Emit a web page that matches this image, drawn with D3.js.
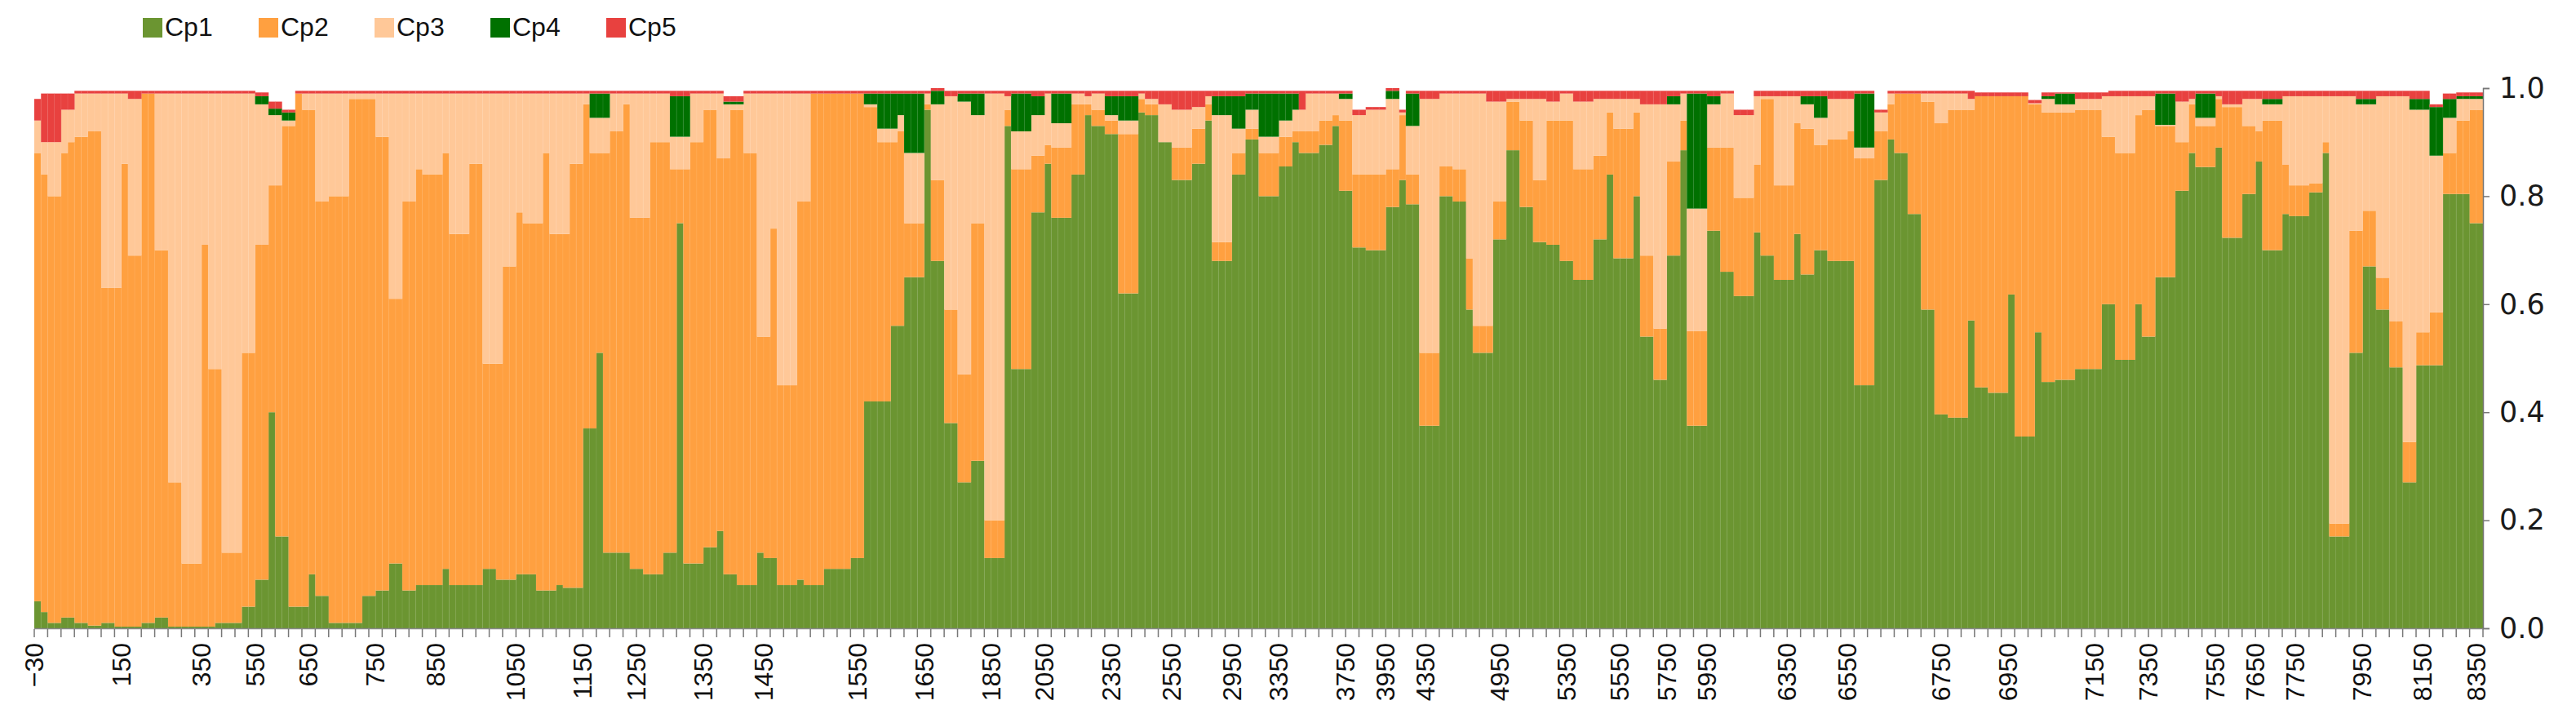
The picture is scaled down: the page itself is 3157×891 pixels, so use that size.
<!DOCTYPE html>
<html>
<head>
<meta charset="utf-8">
<script src="https://cdn.jsdelivr.net/npm/d3@7"></script>
<style>
  body { margin: 0; background: #fff; }
  #chart { width: 3157px; height: 891px; }
</style>
</head>
<body>
<div id="chart"></div>
<script>
// cumulative tops (percent) of each component, one value per bar
const cp1Top = [
5,3,1,1,2,2,1,1,0.5,0.5, 1,1,0.3,0.3,0.3,0.3,1,1,2,2,
0.3,0.3,0.3,0.3,0.3,0.3,0.3,1,1,1, 1,4,4,9,9,40,17,17,4,4,
4,10,6,6,1,1,1,1,1,6, 6,7,7,12,12,7,7,8,8,8,
8,11,8,8,8,8,8,11,11,9, 9,9,10,10,10,7,7,7,8,7.5,
7.5,7.5,37,37,51,14,14,14,14,11, 11,10,10,10,14,14,75,12,12,12,
15,15,18,10,10,8,8,8,14,13, 13,8,8,8,9,8,8,8,11,11,
11,11,13,13,42,42,42,42,56,56, 65,65,65,96,68,68,38,38,27,27,
31,31,13,13,13,93,48,48,48,77, 77,86,76,76,76,84,84,95,93,93,
91.5,91.5,62,62,62,95.5,95,95,90,90, 83,83,83,86,86,94,68,68,68,84,
84,90.5,90.5,80,80,80,85.5,85.5,90,88, 88,88,89.5,89.5,93,81,81,70.5,70.5,70,
70,70,78,78,83,78.5,78.5,37.5,37.5,37.5, 80,80,79,79,59,51,51,51,72,72,
88.5,88.5,78,78,71.5,71.5,71,71,68,68, 64.5,64.5,64.5,72,72,84,68.5,68.5,68.5,80,
54,54,46,46,69,69,88.5,37.5,37.5,37.5, 73.6,73.6,66,66,61.5,61.5,61.5,73.3,69,69,
64.5,64.5,64.5,73,65.5,65.5,70,70,68,68, 68,68,45,45,45,83,83,90.5,88,88,
76.7,76.7,59,59,39.6,39.6,39,39,39,57, 44.6,44.6,43.6,43.6,43.6,61.8,35.5,35.5,35.5,54.8,
45.6,45.6,46,46,46,48,48,48,48,60, 60,49.7,49.7,49.7,60,54,54,65,65,65,
81,81,88,85.4,85.4,85.4,89,72.3,72.3,72.3, 80.4,80.4,86.4,70,70,70,76.7,76.3,76.3,76.3,
80.7,80.7,88,17,17,17,51,51,67,67, 59,59,48.3,48.3,27,27,48.7,48.7,48.7,48.7,
80.4,80.4,80.4,80.4,75,75
];
const cp2Top = [
88,84,80,80,88,90,91,91,92,92, 63,63,63,86,69,69,99,99,70,70,
27,27,12,12,12,71,48,48,14,14, 14,51,51,71,71,82,82,93,93,99,
96,96,79,79,80,80,80,98,98,98, 98,91,91,61,61,79,79,85,84,84,
84,88,73,73,73,86,86,49,49,49, 67,67,77,75,75,75,88,73,73,73,
86,86,97,88,88,88,92,92,97,76, 76,76,90,90,90,85,85,85,90,90,
96,96,87,87,96,96,88,88,54,54, 74,45,45,45,79,79,99,99,99,99,
99,99,99,99,96.5,96.5,90,90,90,92, 75,75,75,97,83,83,59,59,47,47,
75,75,20,20,20,96,85,85,85,87.5, 87.5,89.5,89,89,89,97,97,97,96,96,
94,94,91.5,91.5,91.5,98,97,97,90,90, 89,89,89,92.5,92.5,97,71.5,71.5,71.5,88,
88,92.5,92.5,88,88,88,91,91,92,92, 92,92,94,94,95,94,94,84,84,84,
84,84,85,85,95,84,84,51,51,51, 85.5,85.5,85,85,68.5,56,56,56,79,79,
97.5,97.5,94,94,83,83,94,94,94,94, 85,85,85,87.5,87.5,95.5,92.5,92.5,92.5,95.5,
69,69,55.5,55.5,86.4,86.4,94,55,55,55, 89,89,89,89,79.7,79.7,79.7,85.8,98,98,
82,82,82,93.5,92.5,92.5,89.5,89.5,90.5,90.5, 90.5,92,87,87,87,92,92,97,99,99,
99,99,97.5,97.5,93.5,93.5,96,96,96,96, 98.5,98.5,98.5,98.5,98.5,98.5,98.5,98.5,97,97,
95.5,95.5,95.5,95.5,95.5,96,96,96,96,91, 91,88,88,88,95,96,96,93,93,93,
90,90,97,93,93,93,98,96.5,96.5,96.5, 93,93,92,94,94,94,85.8,82,82,82,
82.4,82.4,90,19.4,19.4,19.4,73.6,73.6,77.3,77.3, 64.9,64.9,56.8,56.8,34.5,34.5,54.8,54.8,58.5,58.5,
88,88,94,94,96,96
];
const cp3Top = [
94,90,90,90,96,96,99,99,99,99, 99,99,99,99,98,98,99,99,99,99,
99,99,99,99,99,99,99,99,99,99, 99,99,99,97,97,95,95,94,94,99,
99,99,99,99,99,99,99,99,99,99, 99,99,99,99,99,99,99,99,99,99,
99,99,99,99,99,99,99,99,99,99, 99,99,99,99,99,99,99,99,99,99,
99,99,99,94.5,94.5,94.5,99,99,99,99, 99,99,99,99,99,91,91,91,99,99,
99,99,99,97,97,97,99,99,99,99, 99,99,99,99,99,99,99,99,99,99,
99,99,99,99,97,97,92.5,92.5,92.5,95, 88,88,88,99,97,97,98.5,98.5,97.5,97.5,
95,95,99,99,99,98.5,92,92,92,95, 95,99,93.5,93.5,93.5,99,99,98.5,99,99,
95,95,94,94,94,99,98,98,97,97, 96,96,96,96.5,96.5,98.5,95,95,95,92.5,
92.5,96,96,91,91,91,94,94,96,96, 99,99,99,99,99,98,98,95,95,96,
96,96,98,98,95.5,93,93,98,98,98, 99,99,99,99,99,99,99,97.5,97.5,97.5,
98,98,98,98,98,98,97.5,97.5,99,99, 97.5,97.5,97.5,98,98,98,98,98,98,98,
97,97,97,97,97,97,99,77.7,77.7,77.7, 97,97,99,99,95,95,95,98.5,98.5,98.5,
98.5,98.5,98.5,98.5,97,97,94.5,94.5,98,98, 98,98,89,89,89,95.5,95.5,99,99,99,
99,99,99,99,99,99,99,99,99,98, 98.5,98.5,98.5,98.5,98.5,98.5,98.5,98.5,97.2,97.2,
98,98,97,97,97,98,98,98,98,98.5, 98.5,98.5,98.5,98.5,98.5,98.5,98.5,93.2,93.2,93.2,
97.5,97.5,98,94.5,94.5,94.5,98.5,97,97,97, 98,98,98,97,97,97,98.5,98.5,98.5,98.5,
98.5,98.5,98.5,98.5,98.5,98.5,98.5,97,97,97, 98.5,98.5,98.5,98.5,98.5,96,96,96,87.5,87.5,
94.5,94.5,98,98,98,98
];
const cp4Top = [
94,90,90,90,96,96,99,99,99,99, 99,99,99,99,98,98,99,99,99,99,
99,99,99,99,99,99,99,99,99,99, 99,99,99,98.5,98.5,96.2,96.2,95.5,95.5,99,
99,99,99,99,99,99,99,99,99,99, 99,99,99,99,99,99,99,99,99,99,
99,99,99,99,99,99,99,99,99,99, 99,99,99,99,99,99,99,99,99,99,
99,99,99,99,99,99,99,99,99,99, 99,99,99,99,99,98.5,98.5,98.5,99,99,
99,99,99,97.5,97.5,97.5,99,99,99,99, 99,99,99,99,99,99,99,99,99,99,
99,99,99,99,99,99,99,99,99,99, 99,99,99,99,99.5,99.5,98.5,98.5,99,99,
99,99,99,99,99,98.5,99,99,99,98.5, 98.5,99,99,99,99,99,99,98.5,99,99,
98.5,98.5,98.5,98.5,98.5,99,98,98,97,97, 96,96,96,96.5,96.5,98.5,98.5,98.5,98.5,98.5,
98.5,99,99,99,99,99,99,99,99,96, 99,99,99,99,99,99,99,95,95,96,
96,96,99.5,99.5,95.5,99,99,98,98,98, 99,99,99,99,99,99,99,97.5,97.5,97.5,
98,98,98,98,98,98,97.5,97.5,99,99, 97.5,97.5,97.5,98,98,98,98,98,98,98,
97,97,97,97,98.5,98.5,99,99,99,99, 98.5,98.5,99,99,95,95,95,98.5,98.5,98.5,
98.5,98.5,98.5,98.5,98.5,98.5,98.5,98.5,98,98, 98,98,99,99,99,95.5,95.5,99,99,99,
99,99,99,99,99,99,99,99,99,98, 98.5,98.5,98.5,98.5,98.5,98.5,98.5,98.5,97.2,97.2,
98.5,98.5,99,99,99,98,98,98,98,98.5, 98.5,98.5,98.5,98.5,98.5,98.5,98.5,99,99,99,
97.5,97.5,98,99,99,99,98.5,97,97,97, 98,98,98,98,98,98,98.5,98.5,98.5,98.5,
98.5,98.5,98.5,98.5,98.5,98.5,98.5,98,98,98, 98.5,98.5,98.5,98.5,98.5,98,98,98,96.5,96.5,
98,98,98.5,98.5,98.5,98.5
];
const cp5Top = [
98,99,99,99,99,99,99.5,99.5,99.5,99.5, 99.5,99.5,99.5,99.5,99.5,99.5,99.5,99.5,99.5,99.5,
99.5,99.5,99.5,99.5,99.5,99.5,99.5,99.5,99.5,99.5, 99.5,99.5,99.5,99.2,99.2,97.5,97.5,96,96,99.5,
99.5,99.5,99.5,99.5,99.5,99.5,99.5,99.5,99.5,99.5, 99.5,99.5,99.5,99.5,99.5,99.5,99.5,99.5,99.5,99.5,
99.5,99.5,99.5,99.5,99.5,99.5,99.5,99.5,99.5,99.5, 99.5,99.5,99.5,99.5,99.5,99.5,99.5,99.5,99.5,99.5,
99.5,99.5,99.5,99.5,99.5,99.5,99.5,99.5,99.5,99.5, 99.5,99.5,99.5,99.5,99.5,99.5,99.5,99.5,99.5,99.5,
99.5,99.5,99.5,98.5,98.5,98.5,99.5,99.5,99.5,99.5, 99.5,99.5,99.5,99.5,99.5,99.5,99.5,99.5,99.5,99.5,
99.5,99.5,99.5,99.5,99.5,99.5,99.5,99.5,99.5,99.5, 99.5,99.5,99.5,99.5,100,100,99.5,99.5,99.5,99.5,
99.5,99.5,99.5,99.5,99.5,99.5,99.5,99.5,99.5,99.5, 99.5,99.5,99.5,99.5,99.5,99.5,99.5,99.5,99.5,99.5,
99.5,99.5,99.5,99.5,99.5,99.5,99.5,99.5,99.5,99.5, 99.5,99.5,99.5,99.5,99.5,99.5,99.5,99.5,99.5,99.5,
99.5,99.5,99.5,99.5,99.5,99.5,99.5,99.5,99.5,99.5, 99.5,99.5,99.5,99.5,99.5,99.5,99.5,96,96,96.5,
96.5,96.5,100,100,96,99.5,99.5,99.5,99.5,99.5, 99.5,99.5,99.5,99.5,99.5,99.5,99.5,99.5,99.5,99.5,
99.5,99.5,99.5,99.5,99.5,99.5,99.5,99.5,99.5,99.5, 99.5,99.5,99.5,99.5,99.5,99.5,99.5,99.5,99.5,99.5,
99.5,99.5,99.5,99.5,99.5,99.5,99.5,99.5,99.5,99.5, 99.5,99.5,99.5,99.5,96,96,96,99.5,99.5,99.5,
99.5,99.5,99.5,99.5,99.5,99.5,99.5,99.5,99.5,99.5, 99.5,99.5,99.5,99.5,99.5,96,96,99.5,99.5,99.5,
99.5,99.5,99.5,99.5,99.5,99.5,99.5,99.5,99.5,99.5, 99.2,99.2,99.2,99.2,99.2,99.2,99.2,99.2,97.8,97.8,
99.2,99.2,99.2,99.2,99.2,99.2,99.2,99.2,99.2,99.2, 99.5,99.5,99.5,99.5,99.5,99.5,99.5,99.5,99.5,99.5,
99.5,99.5,99.5,99.5,99.5,99.5,99.5,99.5,99.5,99.5, 99.5,99.5,99.5,99.5,99.5,99.5,99.5,99.5,99.5,99.5,
99.5,99.5,99.5,99.5,99.5,99.5,99.5,99.5,99.5,99.5, 99.5,99.5,99.5,99.5,99.5,99.5,99.5,99.5,97,97,
99,99,99.2,99.2,99.2,99.2
];

const seriesNames = ["Cp1", "Cp2", "Cp3", "Cp4", "Cp5"];
const seriesColors = ["#6b9531", "#ffa040", "#ffc898", "#007100", "#e8413f"];
const tops = [cp1Top, cp2Top, cp3Top, cp4Top, cp5Top];

// tick labels and the bar they sit on
const tickLabels = ["\u221230","150","350","550","650","750","850","1050","1150","1250","1350","1450","1550",
  "1650","1850","2050","2350","2550","2950","3350","3750","3950","4350","4950","5350","5550","5750","5950",
  "6350","6550","6750","6950","7150","7350","7550","7650","7750","7950","8150","8350"];
const tickBars = [0,13,25,33,41,51,60,72,82,90,100,109,123,
  133,143,151,161,170,179,186,196,202,208,219,229,237,244,250,
  262,271,285,295,308,316,326,332,338,348,357,365];
const yTicks = [0, 0.2, 0.4, 0.6, 0.8, 1.0];

const nBars = cp1Top.length;
const idx = d3.range(nBars);

const width = 3157, height = 891;
const svg = d3.select("#chart").append("svg")
  .attr("width", width).attr("height", height);

const x = d3.scaleBand().domain(idx).range([42, 3043]).paddingInner(0).paddingOuter(0);
const xPos = d3.scaleLinear().domain([0, nBars]).range([42, 3043]);
const y = d3.scaleLinear().domain([0, 1]).range([770, 108]);

// stacked bars
tops.forEach(function (arr, s) {
  svg.append("g")
    .selectAll("rect")
    .data(idx)
    .join("rect")
    .attr("x", d => x(d))
    .attr("width", x.bandwidth() + 0.3)
    .attr("y", d => y(arr[d] / 100))
    .attr("height", d => Math.max(0, y(s === 0 ? 0 : tops[s - 1][d] / 100) - y(arr[d] / 100)))
    .attr("fill", seriesColors[s]);
});

// faint bar separators
svg.append("g")
  .selectAll("line")
  .data(idx.slice(1))
  .join("line")
  .attr("x1", d => x(d)).attr("x2", d => x(d))
  .attr("y1", d => y(cp5Top[d] / 100)).attr("y2", y(0))
  .attr("stroke", "#fff").attr("stroke-opacity", 0.1).attr("stroke-width", 1);

// x axis
const xg = svg.append("g");
xg.append("line").attr("x1", 42).attr("x2", 3043).attr("y1", 770.5).attr("y2", 770.5)
  .attr("stroke", "#888").attr("stroke-width", 1.5);
xg.selectAll(".tk").data(d3.range(0, nBars + 1, 2)).join("line")
  .attr("x1", d => xPos(d)).attr("x2", d => xPos(d))
  .attr("y1", 771).attr("y2", 781)
  .attr("stroke", "#777").attr("stroke-width", 1.5);
xg.selectAll("text").data(tickLabels).join("text")
  .attr("transform", (d, i) => `translate(${xPos(tickBars[i]) + 11},788) rotate(-90)`)
  .attr("text-anchor", "end")
  .attr("font-family", "Liberation Sans, Arial, sans-serif")
  .attr("font-size", 32)
  .attr("fill", "#111")
  .text(d => d);

// right y axis
const yAxis = d3.axisRight(y).tickValues(yTicks).tickFormat(d3.format(".1f")).tickSize(8).tickPadding(12);
const yg = svg.append("g").attr("transform", "translate(3043,0)").call(yAxis);
yg.select(".domain").attr("stroke", "#777").attr("stroke-width", 1.5);
yg.selectAll(".tick line").attr("stroke", "#777").attr("stroke-width", 1.5);
yg.selectAll("text").attr("font-family", "DejaVu Sans, Verdana, sans-serif")
  .attr("font-size", 35).attr("fill", "#1a1a1a");

// legend
const lg = svg.append("g").attr("transform", "translate(175,22)");
seriesNames.forEach(function (n, i) {
  const g = lg.append("g").attr("transform", `translate(${i * 142},0)`);
  g.append("rect").attr("width", 24).attr("height", 24).attr("fill", seriesColors[i]);
  g.append("text").attr("x", 27).attr("y", 22)
    .attr("font-family", "Liberation Sans, Arial, sans-serif")
    .attr("font-size", 32).attr("fill", "#111").text(n);
});
</script>
</body>
</html>
